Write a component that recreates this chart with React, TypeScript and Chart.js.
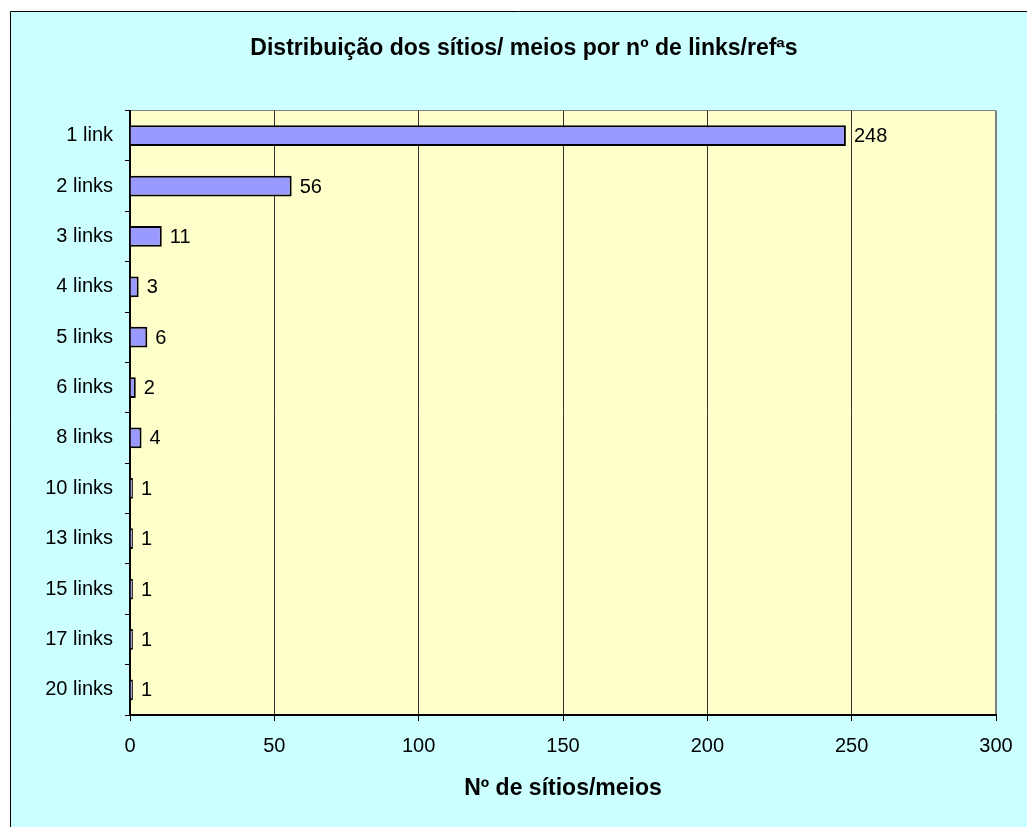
import React, { useEffect, useRef } from "react";
import { Chart, registerables } from "chart.js";

Chart.register(...registerables);

const categories = [
  "1 link", "2 links", "3 links", "4 links", "5 links", "6 links",
  "8 links", "10 links", "13 links", "15 links", "17 links", "20 links",
];
const siteCounts = [248, 56, 11, 3, 6, 2, 4, 1, 1, 1, 1, 1];
const xMin = 0;
const xMax = 300;
const xStep = 50;
const chartTitle = "Distribuição dos sítios/ meios por nº de links/refªs";
const xAxisTitle = "Nº de sítios/meios";

const FONT = "'Liberation Sans', Arial, sans-serif";
const W = 1027;
const H = 827;

const backgroundPlugin = {
  id: "bgPlugin",
  beforeDraw(chart: any) {
    const { ctx, chartArea } = chart;
    ctx.save();
    ctx.fillStyle = "#ffffff";
    ctx.fillRect(0, 0, W, H);
    ctx.fillStyle = "#CCFFFF";
    ctx.fillRect(10, 11, W, H);
    ctx.strokeStyle = "#000000";
    ctx.lineWidth = 1;
    ctx.beginPath();
    ctx.moveTo(10.5, H);
    ctx.lineTo(10.5, 11.5);
    ctx.lineTo(W, 11.5);
    ctx.stroke();
    const l = chartArea.left, t = chartArea.top, r = chartArea.right, b = chartArea.bottom;
    ctx.fillStyle = "#FFFFCC";
    ctx.fillRect(l, t, r - l, b - t);
    ctx.strokeStyle = "#808080";
    ctx.beginPath();
    const ty = Math.floor(t) + 0.5;
    const rx = Math.round(r) - 0.5;
    ctx.moveTo(l, ty);
    ctx.lineTo(rx, ty);
    ctx.lineTo(rx, b);
    ctx.stroke();
    // chart title, centred on the outer frame
    ctx.fillStyle = "#000000";
    ctx.font = `bold 23px ${FONT}`;
    ctx.textAlign = "center";
    ctx.textBaseline = "middle";
    ctx.fillText(chartTitle, 524, 49);
    ctx.restore();
  },
};

const valueLabelPlugin = {
  id: "valueLabels",
  afterDatasetsDraw(chart: any) {
    const { ctx } = chart;
    const meta = chart.getDatasetMeta(0);
    ctx.save();
    ctx.fillStyle = "#000000";
    ctx.font = `20px ${FONT}`;
    ctx.textAlign = "left";
    ctx.textBaseline = "middle";
    meta.data.forEach((bar: any, i: number) => {
      const v = chart.data.datasets[0].data[i];
      ctx.fillText(String(v), bar.x + 8, bar.y + 1);
    });
    ctx.restore();
  },
};

export default function App() {
  const canvasRef = useRef<HTMLCanvasElement | null>(null);

  useEffect(() => {
    if (!canvasRef.current) return;
    const chart = new Chart(canvasRef.current, {
      type: "bar",
      data: {
        labels: categories,
        datasets: [
          {
            data: siteCounts,
            backgroundColor: "#9999FF",
            borderColor: "#000000",
            borderWidth: 2,
            borderSkipped: "start",
            barPercentage: 0.41,
            categoryPercentage: 1,
          },
        ],
      },
      options: {
        indexAxis: "y",
        responsive: false,
        animation: false,
        devicePixelRatio: 1,
        layout: { padding: { left: 0, right: 31, top: 110.5, bottom: 0 } },
        plugins: {
          legend: { display: false },
          tooltip: { enabled: false },
          title: { display: false },
        },
        scales: {
          x: {
            type: "linear",
            position: "bottom",
            min: xMin,
            max: xMax,
            ticks: {
              stepSize: xStep,
              color: "#000000",
              font: { family: FONT, size: 20, lineHeight: 1.2 },
              padding: 13,
              maxRotation: 0,
            },
            grid: {
              color: (c: any) => (c.tick && c.tick.value === xMax ? "#808080" : "#333333"),
              tickColor: "#000000",
              lineWidth: 1,
              tickLength: 6,
              drawOnChartArea: true,
            },
            border: { display: true, color: "#000000", width: 2 },
            title: {
              display: true,
              text: xAxisTitle,
              color: "#000000",
              font: { family: FONT, size: 23, weight: "bold", lineHeight: 1.2 },
              padding: { top: 0, bottom: 25 },
            },
            afterFit: (scale: any) => {
              scale.height = 112;
              scale.paddingLeft = 0;
              scale.paddingRight = 0;
            },
          },
          y: {
            type: "category",
            position: "left",
            ticks: {
              color: "#000000",
              font: { family: FONT, size: 20, lineHeight: 1.2 },
              padding: 12,
            },
            grid: {
              drawOnChartArea: false,
              color: "#000000",
              tickLength: 5,
              offset: true,
            },
            border: { display: true, color: "#000000", width: 2 },
            afterFit: (scale: any) => {
              scale.width = 130;
              scale.paddingTop = 0;
              scale.paddingBottom = 0;
            },
          },
        },
      },
      plugins: [backgroundPlugin, valueLabelPlugin],
    } as any);
    return () => chart.destroy();
  }, []);

  return (
    <div style={{ position: "fixed", left: 0, top: 0, width: W, height: H }}>
      <canvas ref={canvasRef} width={W} height={H} style={{ width: W, height: H, display: "block" }} />
    </div>
  );
}
